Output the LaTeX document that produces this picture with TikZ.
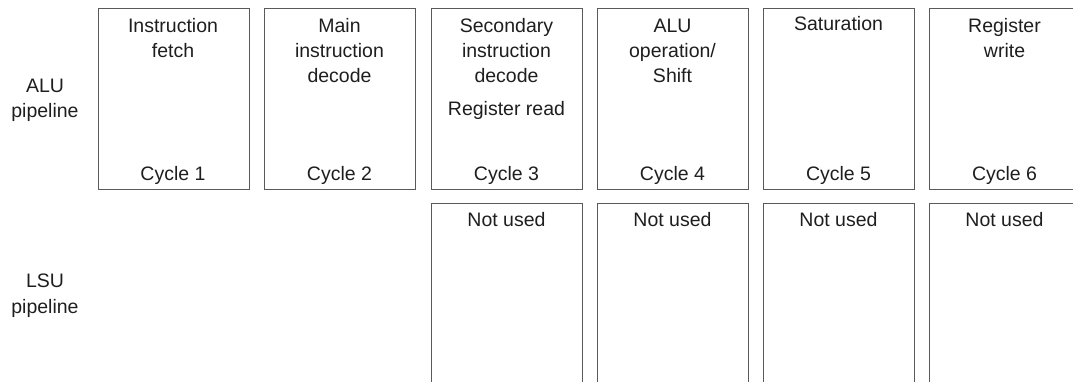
\documentclass[tikz,border=0pt]{standalone}
\usepackage{fontspec}
\setmainfont{Liberation Sans}
\definecolor{boxline}{HTML}{5A5A5A}
\definecolor{txt}{HTML}{1E1E1E}
\begin{document}
\begin{tikzpicture}[x=1pt,y=-1pt,
  stage/.style={draw=boxline,line width=1.2pt,rectangle,inner sep=0pt,minimum width=151pt,minimum height=181pt,anchor=north west},
  lsu/.style={stage,minimum height=220pt},
  lbl/.style={anchor=base,inner sep=0pt,text=txt,font=\fontsize{19.5}{24}\selectfont}]
\useasboundingbox (0,0) rectangle (1073,381);
\clip (0,0) rectangle (1073,381);
% ALU row boxes
\node[stage] (a1) at (97.5,8) {};
\node[stage] (a2) at (264,8) {};
\node[stage] (a3) at (431,8) {};
\node[stage] (a4) at (597,8) {};
\node[stage] (a5) at (763,8) {};
\node[stage] (a6) at (929,8) {};
% LSU row boxes
\node[lsu] (l3) at (431,203) {};
\node[lsu] (l4) at (597,203) {};
\node[lsu] (l5) at (763,203) {};
\node[lsu] (l6) at (929,203) {};
% row labels
\node[lbl] (alu1) at (45,92) {ALU};
\node[lbl] (alu2) at (45,117) {pipeline};
\node[lbl] (lsu1) at (45,287) {LSU};
\node[lbl] (lsu2) at (45,313) {pipeline};
% stage texts
\node[lbl] (t1a) at (173,32) {Instruction};
\node[lbl] (t1b) at (173,57) {fetch};
\node[lbl] (t2a) at (339.5,32) {Main};
\node[lbl] (t2b) at (339.5,57) {instruction};
\node[lbl] (t2c) at (339.5,82) {decode};
\node[lbl] (t3a) at (506.5,32) {Secondary};
\node[lbl] (t3b) at (506.5,57) {instruction};
\node[lbl] (t3c) at (506.5,82) {decode};
\node[lbl] (t3d) at (506.5,115) {Register read};
\node[lbl] (t4a) at (672.5,32) {ALU};
\node[lbl] (t4b) at (672.5,57) {operation/};
\node[lbl] (t4c) at (672.5,82) {Shift};
\node[lbl] (t5a) at (838.5,30) {Saturation};
\node[lbl] (t6a) at (1004.5,32) {Register};
\node[lbl] (t6b) at (1004.5,57) {write};
% cycles
\node[lbl] (c1) at (173,180) {Cycle 1};
\node[lbl] (c2) at (339.5,180) {Cycle 2};
\node[lbl] (c3) at (506.5,180) {Cycle 3};
\node[lbl] (c4) at (672.5,180) {Cycle 4};
\node[lbl] (c5) at (838.5,180) {Cycle 5};
\node[lbl] (c6) at (1004.5,180) {Cycle 6};
% not used
\node[lbl] (n3) at (506.5,226) {Not used};
\node[lbl] (n4) at (672.5,226) {Not used};
\node[lbl] (n5) at (838.5,226) {Not used};
\node[lbl] (n6) at (1004.5,226) {Not used};
\end{tikzpicture}
\end{document}
